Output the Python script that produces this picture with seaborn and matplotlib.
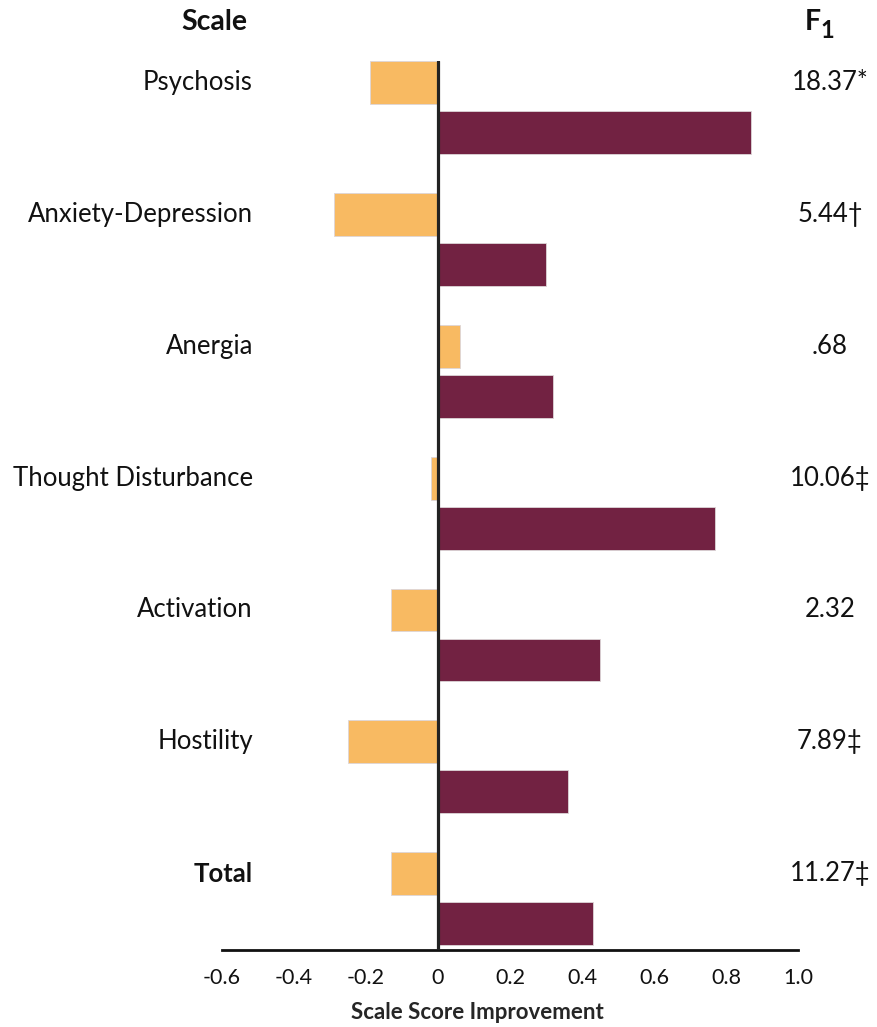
import matplotlib
matplotlib.use("Agg")
import matplotlib.pyplot as plt
import matplotlib.transforms as mtransforms
import seaborn as sns
import pandas as pd

scales = ["Psychosis", "Anxiety-Depression", "Anergia", "Thought Disturbance",
          "Activation", "Hostility", "Total"]
group_a = [-0.19, -0.29, 0.06, -0.02, -0.13, -0.25, -0.13]
group_b = [0.87, 0.30, 0.32, 0.77, 0.45, 0.36, 0.43]
f_values = ["18.37*", "5.44\u2020", ".68", "10.06\u2021", "2.32", "7.89\u2021", "11.27\u2021"]
x_ticks = [-0.6, -0.4, -0.2, 0, 0.2, 0.4, 0.6, 0.8, 1.0]
x_tick_labels = ["-0.6", "-0.4", "-0.2", "0", "0.2", "0.4", "0.6", "0.8", "1.0"]

sns.set_style("white")
plt.rcParams["font.family"] = ["Lato", "DejaVu Sans"]

df = pd.DataFrame({
    "scale": scales * 2,
    "value": group_a + group_b,
    "group": ["A"] * len(scales) + ["B"] * len(scales),
})

fig = plt.figure(figsize=(8.78, 10.27), dpi=100)
ax = fig.add_axes([0.2528, 0.075, 0.6560, 0.8656])

sns.barplot(data=df, y="scale", x="value", hue="group", orient="h",
            palette={"A": "#F8BA62", "B": "#722242"}, saturation=1,
            width=0.76, gap=0.145,
            edgecolor="#ddd6d8", linewidth=0.6, legend=False, ax=ax,
            errorbar=None)

ax.set_xlim(-0.6, 1.0)
ax.set_ylim(6.39, -0.355)
ax.axvline(0, color="#222222", lw=2.3, zorder=5)

for s in ["left", "right", "top"]:
    ax.spines[s].set_visible(False)
ax.spines["bottom"].set_color("#111111")
ax.spines["bottom"].set_linewidth(2.0)
ax.set_yticks([])
ax.set_ylabel("")
ax.set_xticks(x_ticks)
ax.set_xticklabels(x_tick_labels, fontsize=15.5, color="#111111")
ax.tick_params(axis="x", direction="out", length=7, width=2.0, color="#111111", pad=6)
ax.set_xlabel("Scale Score Improvement", fontsize=16, fontweight="bold")
ax.xaxis.set_label_coords(0.443, -0.058)

trans_lab = mtransforms.blended_transform_factory(fig.transFigure, ax.transData)
for i, (name, fv) in enumerate(zip(scales, f_values)):
    yy = i - 0.19
    ax.text(253 / 878, yy, name, transform=trans_lab, ha="right", va="center",
            fontsize=18.5, fontweight="bold" if name == "Total" else "normal",
            color="#111111")
    ax.text(830 / 878, yy, fv, transform=trans_lab, ha="center", va="center",
            fontsize=18.5, color="#111111")

fig.text(214 / 878, 1 - 22 / 1027, "Scale", ha="center", va="center",
         fontsize=20.5, fontweight="bold", color="#111111")
fig.text(813 / 878, 1 - 22 / 1027, "F", ha="center", va="center",
         fontsize=20.5, fontweight="bold", color="#111111")
fig.text(827 / 878, 1 - 30 / 1027, "1", ha="center", va="center",
         fontsize=17, fontweight="bold", color="#111111")

fig.savefig("out.png", dpi=100)
